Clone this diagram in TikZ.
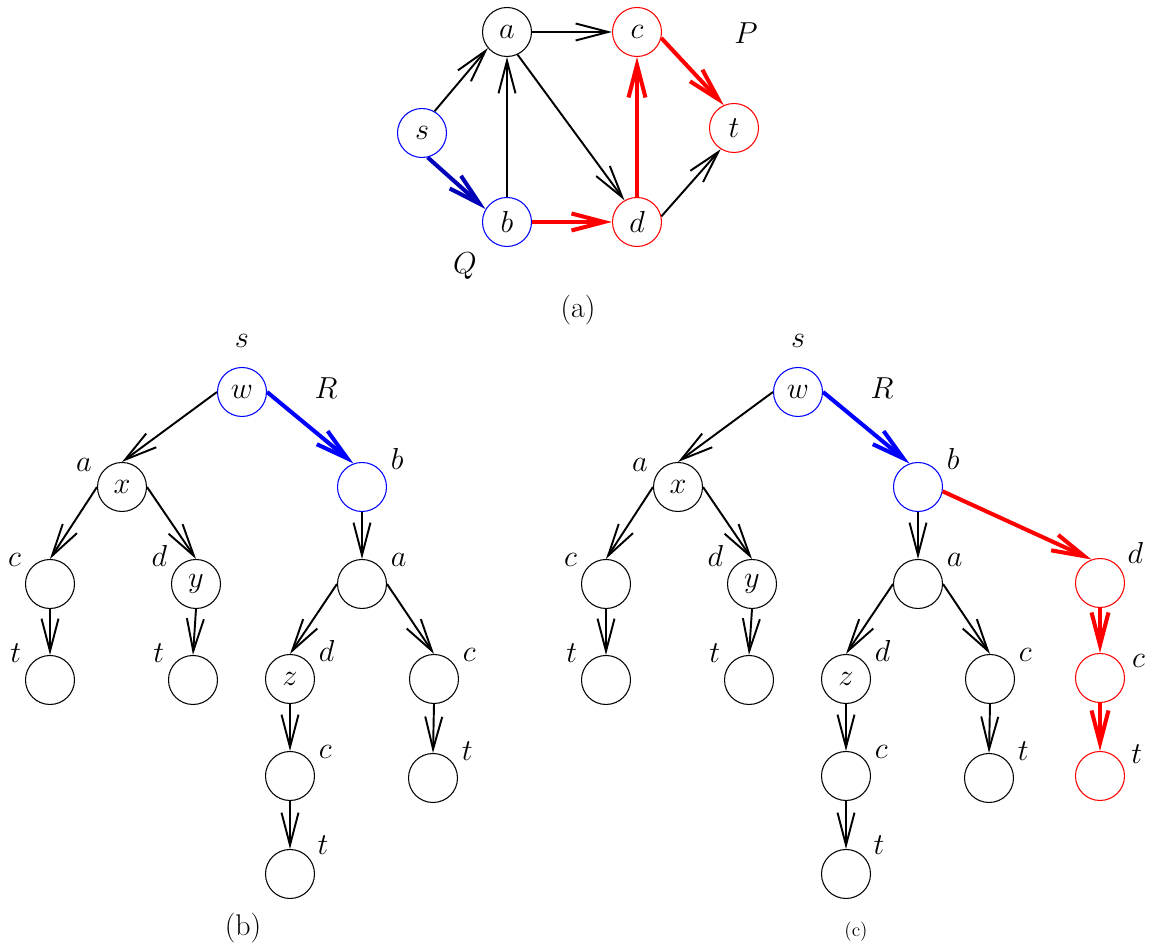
\documentclass[tikz,border=0pt]{standalone}
\usepackage{amsmath}
\usetikzlibrary{arrows.meta}
\tikzset{vertex/.style={circle,draw,line width=0.6pt,minimum size=9.8mm,inner sep=0pt},
         bvertex/.style={vertex,draw=blue},
         rvertex/.style={vertex,draw=red},
         arc/.style={-{Straight Barb[length=6.5mm,width=3.4mm]},line width=1.1pt},
         barc/.style={arc,line width=2.3pt,blue},
         rarc/.style={arc,line width=2.3pt,red},
         every label/.style={inner sep=1pt},
         every node/.style={font=\fontsize{17}{20}\selectfont}}

\begin{document}
\begin{tikzpicture}[label distance=1.2mm]
        \useasboundingbox (0,0) rectangle (23.06,18.94);

        % graph (a)
        \node[vertex](a)at(10.14,18.30){$a$};
        \node[rvertex](c)at(12.74,18.30){$c$};
        \node[bvertex](s)at(8.44,16.28){$s$};
        \node[rvertex](t)at(14.68,16.38){$t$};
        \node[bvertex](b)at(10.14,14.50){$b$};
        \node[rvertex](d)at(12.74,14.50){$d$};
        \node(P)at(14.92,18.28){$P$};
        \node(Q)at(9.30,13.62){$Q$};
        \node(capa)at(11.56,12.74){(a)};

        \draw[arc](s.60)--(a.220);
        \draw[barc,blue!72!black](s.283)--(b.149);
        \draw[arc](b.north)--(a.south);
        \draw[arc](a.east)--(c.west);
        \draw[arc](a.295)--(d.120);
        \draw[rarc](b.east)--(d.west);
        \draw[rarc](d.north)--(c.south);
        \draw[rarc](c.346)--(t.114);
        \draw[arc](d.13)--(t.238);

        % search trees (b) and (c)
        \foreach \p/\dx in {u/0,v/11.12}{
        \begin{scope}[xshift=\dx cm]
        \node[bvertex, label={[label distance=3.5mm]above:$s$}](\p w)at(4.84,11.10){$w$};
        \node(\p R)at(6.52,11.18){$R$};
        \node[vertex, label=155:$a$](\p x)at(2.44,9.20){$x$};
        \node[bvertex, label=30:$b$](\p b)at(7.24,9.20){};
        \node[vertex, label=150:$c$](\p c)at(1.00,7.26){};
        \node[vertex, label=150:$d$](\p y)at(3.92,7.26){$y$};
        \node[vertex, label=30:$a$](\p a)at(7.24,7.26){};
        \node[vertex, label=150:$t$](\p t1)at(1.00,5.34){};
        \node[vertex, label=150:$t$](\p t2)at(3.86,5.34){};
        \node[vertex, label=30:$d$](\p z)at(5.80,5.36){$z$};
        \node[vertex, label=30:$c$](\p c2)at(8.68,5.36){};
        \node[vertex, label=30:$c$](\p c3)at(5.80,3.42){};
        \node[vertex, label=30:$t$](\p t3)at(8.66,3.38){};
        \node[vertex, label=35:$t$](\p t4)at(5.80,1.46){};

        \draw[arc](\p w.west)--(\p x.north);
        \draw[barc](\p w.east)--(\p b.110);
        \draw[arc](\p x.west)--(\p c.north);
        \draw[arc](\p x.east)--(\p y.north);
        \draw[arc](\p c.south)--(\p t1.north);
        \draw[arc](\p y.south)--(\p t2.north);
        \draw[arc](\p b.south)--(\p a.north);
        \draw[arc](\p a.west)--(\p z.north);
        \draw[arc](\p a.east)--(\p c2.north);
        \draw[arc](\p z.south)--(\p c3.north);
        \draw[arc](\p c2.south)--(\p t3.north);
        \draw[arc](\p c3.south)--(\p t4.north);
        \end{scope}
        }

        % path P grafted onto (c)
        \node[rvertex, label=35:$d$](vd)at(22.00,7.28){};
        \node[rvertex, label=15:$c$](vc)at(22.00,5.38){};
        \node[rvertex, label=20:$t$](vt)at(22.00,3.42){};
        \draw[rarc](vb.350)--(vd.110);
        \draw[rarc](vd.south)--(vc.north);
        \draw[rarc](vc.south)--(vt.north);

        \node(capb)at(4.86,0.38){(b)};
        \node[font=\fontsize{11}{13}\selectfont](capc)at(17.12,0.30){(c)};
    \end{tikzpicture}
\end{document}
